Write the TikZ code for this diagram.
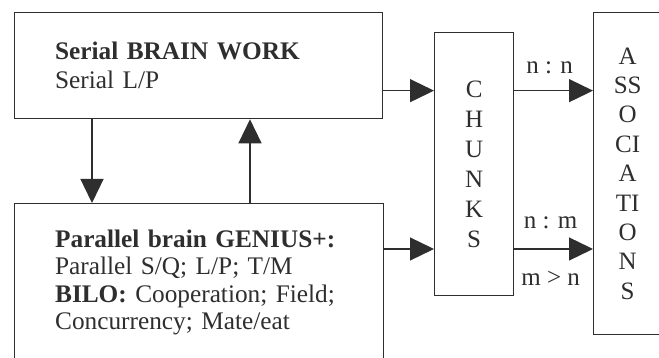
\documentclass[tikz,border=0pt]{standalone}
\usepackage{fontspec}
\setmainfont{Liberation Serif}
\usetikzlibrary{arrows.meta,positioning}
\definecolor{ink}{HTML}{2E2E2E}
\tikzset{
  box/.style={draw=ink, line width=1.3pt, text=ink, inner sep=0pt},
  arr/.style={draw=ink, line width=1.3pt, -{Triangle[length=24pt,width=23pt]}},
  lbl/.style={text=ink, font=\fontsize{25}{28}\selectfont}
}

\begin{document}
\begin{tikzpicture}[x=1pt,y=1pt]
        \useasboundingbox (0,0) rectangle (659,-358);
        \clip (0,0) rectangle (659,-358);
        % Boxes
        \node [box, anchor=north west, minimum width=368pt, minimum height=106pt,
               text width=287pt, align=left, font=\fontsize{25.3}{29}\selectfont]
              (serial) at (14,-12) {\textbf{Serial BRAIN WORK}\\Serial L/P};
        \node [box, anchor=north west, minimum width=369pt, inner ysep=26pt,
               text width=288pt, align=left, text depth=130pt,
               font=\fontsize{25.3}{27.5}\selectfont]
              (parallel) at (14,-203) {\textbf{Parallel brain GENIUS+:}\\
               Parallel S/Q; L/P; T/M\\
               \textbf{BILO:} Cooperation; Field;\\
               Concurrency; Mate/eat};
        \node [box, anchor=north west, minimum width=79pt, minimum height=263pt,
               align=center, font=\fontsize{25}{30}\selectfont]
              (chunks) at (434,-32) {C\\H\\U\\N\\K\\S};
        \node [box, anchor=north west, minimum width=68pt, minimum height=322pt,
               align=center, font=\fontsize{25}{29.4}\selectfont]
              (assoc) at (593,-12) {A\\SS\\O\\CI\\A\\TI\\O\\N\\S};
        % Serial <-> parallel
        \draw [arr] ([xshift=78pt]serial.south west) coordinate (sd) -- (sd |- parallel.north);
        \draw [arr] ([xshift=236pt]parallel.north west) coordinate (pu) -- (pu |- serial.south);
        % Into chunks
        \draw [arr] ([yshift=-25pt]serial.east) coordinate (sa) -- (sa -| chunks.west);
        \draw [arr] ([yshift=-46pt]parallel.north east) coordinate (pa) -- (pa -| chunks.west);
        % Chunks to associations
        \draw [arr] (sa -| chunks.east) -- (sa -| assoc.west)
              node [lbl, midway, xshift=-4pt, yshift=23pt] (nn) {n : n};
        \draw [arr] (pa -| chunks.east) -- (pa -| assoc.west)
              node [lbl, midway, xshift=-3pt, yshift=26pt] (nm) {n : m}
              node [lbl, midway, xshift=-3pt, yshift=-29pt] (mn) {m > n};
\end{tikzpicture}
\end{document}
